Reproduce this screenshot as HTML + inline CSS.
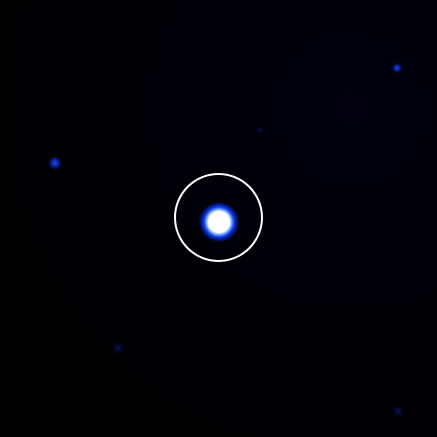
<!DOCTYPE html>
<html><head><meta charset="utf-8"><style>html,body{margin:0;padding:0;background:#000003;}svg{display:block;}</style></head>
<body>
<svg id="img" width="437" height="437" viewBox="0 0 437 437" xmlns="http://www.w3.org/2000/svg">
<defs>
<radialGradient id="bg" cx="0.8" cy="0.25" r="0.8"><stop offset="0" stop-color="#00000e"/><stop offset="0.6" stop-color="#000007"/><stop offset="1" stop-color="#000003"/></radialGradient>
<radialGradient id="glow"><stop offset="0" stop-color="#ffffff"/><stop offset="0.5" stop-color="#ffffff"/><stop offset="0.6" stop-color="#7aaaff"/><stop offset="0.72" stop-color="#0a3ae0"/><stop offset="0.87" stop-color="#021070"/><stop offset="1" stop-color="#000008" stop-opacity="0"/></radialGradient>
<radialGradient id="star"><stop offset="0" stop-color="#1a46e0"/><stop offset="0.5" stop-color="#081c90"/><stop offset="1" stop-color="#000008" stop-opacity="0"/></radialGradient>
<radialGradient id="faint"><stop offset="0" stop-color="#06155a"/><stop offset="1" stop-color="#000008" stop-opacity="0"/></radialGradient>
</defs>
<rect width="437" height="437" fill="url(#bg)"/>
<g id="sources"></g>
<circle cx="218.5" cy="217.5" r="43.5" fill="none" stroke="#ffffff" stroke-width="2"/>
</svg>
<script>
const srcX=[219,397,55,398,118,260];
const srcY=[222,68,163,411,348,130];
const srcR=[21,6,8,8,8,5];
const srcKind=['glow','star','star','faint','faint','faint'];
const g=document.getElementById('sources');
for(let i=0;i<srcX.length;i++){
 const c=document.createElementNS('http://www.w3.org/2000/svg','circle');
 
 
 c.setAttribute('cx',srcX[i]);c.setAttribute('cy',srcY[i]);c.setAttribute('r',srcR[i]);
 c.setAttribute('fill','url(#'+srcKind[i]+')');
 g.appendChild(c);
}
</script>
</body></html>
